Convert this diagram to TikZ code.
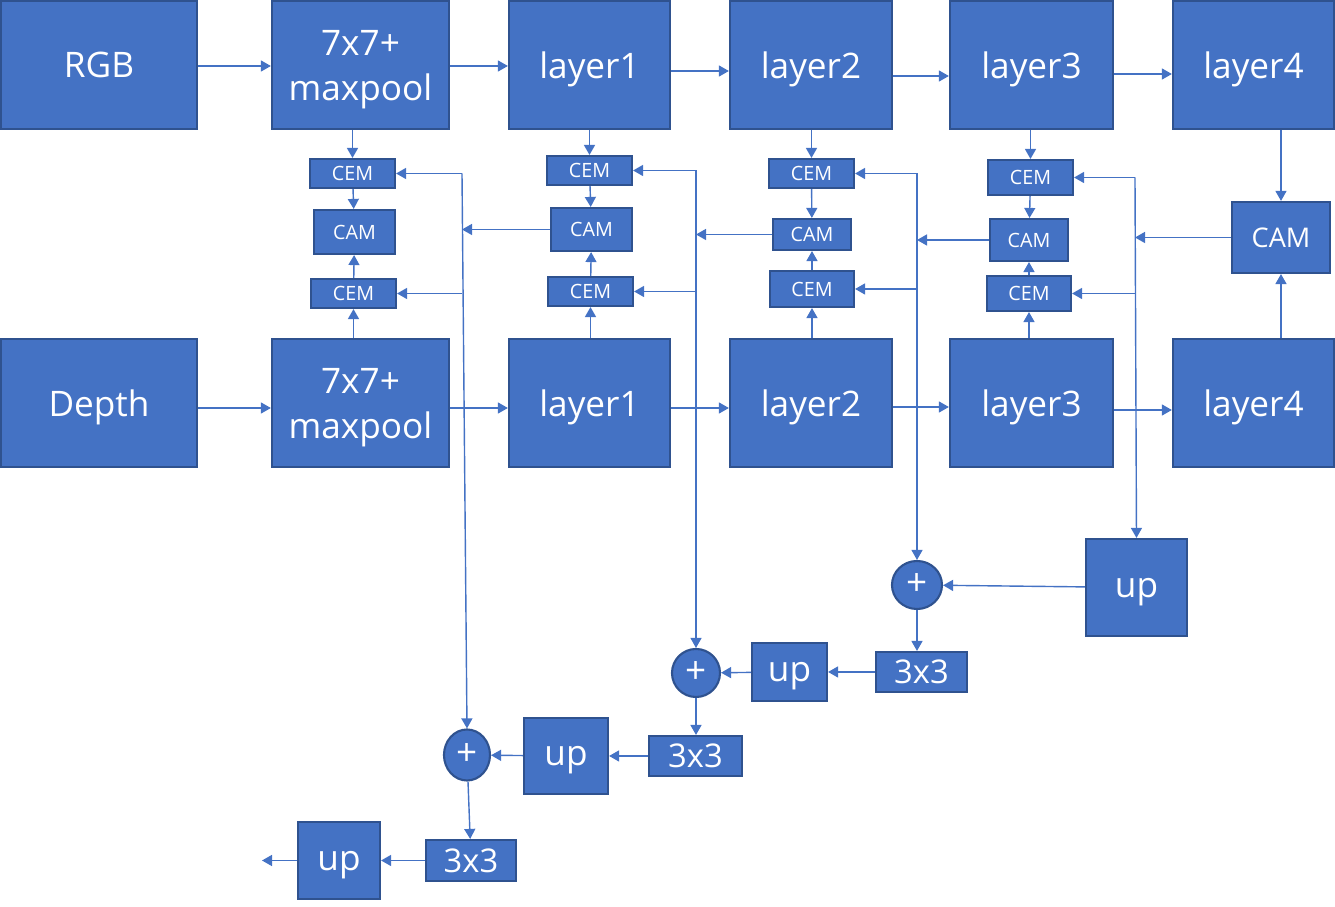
\documentclass[tikz,border=0pt]{standalone}
\usepackage{fontspec}
\setmainfont{Open Sans}
\usetikzlibrary{arrows.meta,shapes.geometric}
\definecolor{blockblue}{HTML}{4472C4}
\definecolor{edgeblue}{HTML}{2F528F}

\begin{document}
\begin{tikzpicture}[x=0.01cm,y=-0.01cm,
    block/.style={draw=edgeblue,fill=blockblue,text=white,line width=0.6pt,
        inner sep=0pt,align=center},
    big/.style={font={\fontsize{10}{12.8}\selectfont},text depth=0pt},
    row/.style={block,big,minimum height=1.28cm},
    cem/.style={block,font={\fontsize{5.6}{6}\selectfont},minimum width=0.85cm},
    sum/.style={block,ellipse,font={\fontsize{10.5}{11}\selectfont}},
    link/.style={draw=blockblue,line width=0.4pt,-{Triangle[length=1mm,width=1.1mm]}}]
\useasboundingbox (0,0) rectangle (1335,907);

% encoder rows
\node[row,minimum width=1.96cm] (rgb) at (99,65) {RGB};
\node[row,minimum width=1.77cm] (mpT) at (360.5,65) {7x7+\\maxpool};
\node[row,minimum width=1.61cm] (l1T) at (589.5,65) {layer1};
\node[row,minimum width=1.62cm] (l2T) at (811,65) {layer2};
\node[row,minimum width=1.63cm] (l3T) at (1031.5,65) {layer3};
\node[row,minimum width=1.61cm] (l4T) at (1253.5,65) {layer4};

\node[row,minimum width=1.96cm] (dep) at (99,403) {Depth};
\node[row,minimum width=1.77cm] (mpB) at (360.5,403) {7x7+\\maxpool};
\node[row,minimum width=1.61cm] (l1B) at (589.5,403) {layer1};
\node[row,minimum width=1.62cm] (l2B) at (811,403) {layer2};
\node[row,minimum width=1.63cm] (l3B) at (1031.5,403) {layer3};
\node[row,minimum width=1.61cm] (l4B) at (1253.5,403) {layer4};

% fusion columns
\node[cem,minimum height=0.29cm] (cemT1) at (352.5,173.5) {CEM};
\node[cem,minimum width=0.81cm,minimum height=0.44cm] (cam1) at (354.5,232) {CAM};
\node[cem,minimum height=0.29cm] (cemB1) at (353.5,293.5) {CEM};

\node[cem,minimum height=0.29cm] (cemT2) at (589.5,170.5) {CEM};
\node[cem,minimum width=0.81cm,minimum height=0.43cm] (cam2) at (591.5,229.5) {CAM};
\node[cem,minimum height=0.29cm] (cemB2) at (590.5,291.5) {CEM};

\node[cem,minimum height=0.29cm] (cemT3) at (811.5,173.5) {CEM};
\node[cem,minimum width=0.78cm,minimum height=0.31cm] (cam3) at (812,234.5) {CAM};
\node[cem,minimum width=0.84cm,minimum height=0.36cm] (cemB3) at (812,289) {CEM};

\node[cem,minimum height=0.35cm] (cemT4) at (1030.5,177.5) {CEM};
\node[cem,minimum width=0.78cm,minimum height=0.42cm] (cam4) at (1029,240) {CAM};
\node[cem,minimum width=0.84cm,minimum height=0.35cm] (cemB4) at (1029,293.5) {CEM};

\node[block,font={\fontsize{7.7}{8}\selectfont},minimum width=0.98cm,minimum height=0.71cm]
    (camR) at (1281,237.5) {CAM};

% decoder
\node[block,big,minimum width=1.01cm,minimum height=0.97cm] (upR) at (1136.5,587.5) {up};
\node[sum,minimum width=0.50cm,minimum height=0.48cm] (sum1) at (917,585) {+};
\node[block,big,font={\fontsize{9.3}{10}\selectfont},minimum width=0.91cm,minimum height=0.40cm] (c3a) at (921.5,672) {3x3};
\node[block,big,minimum width=0.75cm,minimum height=0.58cm] (upA) at (789.5,672) {up};
\node[sum,minimum width=0.48cm,minimum height=0.48cm] (sum2) at (696,673) {+};
\node[block,big,font={\fontsize{9.3}{10}\selectfont},minimum width=0.93cm,minimum height=0.40cm] (c3b) at (695.5,756) {3x3};
\node[block,big,minimum width=0.84cm,minimum height=0.76cm] (upB) at (566,756) {up};
\node[sum,minimum width=0.46cm,minimum height=0.51cm] (sum3) at (467,755) {+};
\node[block,big,font={\fontsize{9.3}{10}\selectfont},minimum width=0.90cm,minimum height=0.41cm] (c3c) at (471,860.5) {3x3};
\node[block,big,minimum width=0.82cm,minimum height=0.77cm] (upC) at (339,860.5) {up};
\coordinate (out) at (262,860.5);

% junctions
\coordinate (j1) at (462,173.5);
\coordinate (j2) at (696,170.5);
\coordinate (j3) at (917,173.5);
\coordinate (j4) at (1135,177.5);

\draw[link] ([yshift=-0.01cm]rgb.east) -- ([yshift=-0.01cm]mpT.west);
\draw[link] ([yshift=-0.01cm]mpT.east) -- ([yshift=-0.01cm]l1T.west);
\draw[link] ([yshift=-0.06cm]l1T.east) -- ([yshift=-0.06cm]l2T.west);
\draw[link] ([yshift=-0.11cm]l2T.east) -- ([yshift=-0.11cm]l3T.west);
\draw[link] ([yshift=-0.09cm]l3T.east) -- ([yshift=-0.09cm]l4T.west);
\draw[link] ([yshift=-0.05cm]dep.east) -- ([yshift=-0.05cm]mpB.west);
\draw[link] ([yshift=-0.05cm]mpB.east) -- ([yshift=-0.05cm]l1B.west);
\draw[link] ([yshift=-0.05cm]l1B.east) -- ([yshift=-0.05cm]l2B.west);
\draw[link] ([yshift=-0.04cm]l2B.east) -- ([yshift=-0.04cm]l3B.west);
\draw[link] ([yshift=-0.07cm]l3B.east) -- ([yshift=-0.07cm]l4B.west);

\draw[link] (cemT1 |- mpT.south) -- (cemT1.north);
\draw[link] (cemT1) -- (cam1);
\draw[link] (cemB1 |- mpB.north) -- (cemB1.south);
\draw[link] (cemB1) -- (cam1);
\draw[link] (cemT2 |- l1T.south) -- (cemT2.north);
\draw[link] (cemT2) -- (cam2);
\draw[link] (cemB2 |- l1B.north) -- (cemB2.south);
\draw[link] (cemB2) -- (cam2);
\draw[link] (cemT3 |- l2T.south) -- (cemT3.north);
\draw[link] (cemT3) -- (cam3);
\draw[link] (cemB3 |- l2B.north) -- (cemB3.south);
\draw[link] (cemB3) -- (cam3);
\draw[link] (cemT4 |- l3T.south) -- (cemT4.north);
\draw[link] (cemT4) -- (cam4);
\draw[link] (cemB4 |- l3B.north) -- (cemB4.south);
\draw[link] (cemB4) -- (cam4);
\draw[link] (camR |- l4T.south) -- (camR.north);
\draw[link] (camR |- l4B.north) -- (camR.south);

% skip lines
\draw[link] (cam2.west) -- (cam2.west -| j1);
\draw[link] (j1) -- (cemT1.east);
\draw[link] (j1 |- cemB1) -- (cemB1.east);
\draw[link] (j1) -- (sum3.north);
\draw[link] (cam3.west) -- (cam3.west -| j2);
\draw[link] (j2) -- (cemT2.east);
\draw[link] (j2 |- cemB2) -- (cemB2.east);
\draw[link] (j2) -- (sum2.north);
\draw[link] (cam4.west) -- (cam4.west -| j3);
\draw[link] (j3) -- (cemT3.east);
\draw[link] (j3 |- cemB3) -- (cemB3.east);
\draw[link] (j3) -- (sum1.north);
\draw[link] (camR.west) -- (camR.west -| j4);
\draw[link] (j4) -- (cemT4.east);
\draw[link] (j4 |- cemB4) -- (cemB4.east);
\draw[link] (j4) -- (upR.north);

% decoder path
\draw[link] (upR) -- (sum1);
\draw[link] (sum1.south) -- (sum1.south |- c3a.north);
\draw[link] (c3a) -- (upA);
\draw[link] (upA) -- (sum2);
\draw[link] (sum2.south) -- (sum2.south |- c3b.north);
\draw[link] (c3b) -- (upB);
\draw[link] (upB) -- (sum3);
\draw[link] (sum3) -- (c3c);
\draw[link] (c3c) -- (upC);
\draw[link] (upC) -- (out);
\end{tikzpicture}
\end{document}
